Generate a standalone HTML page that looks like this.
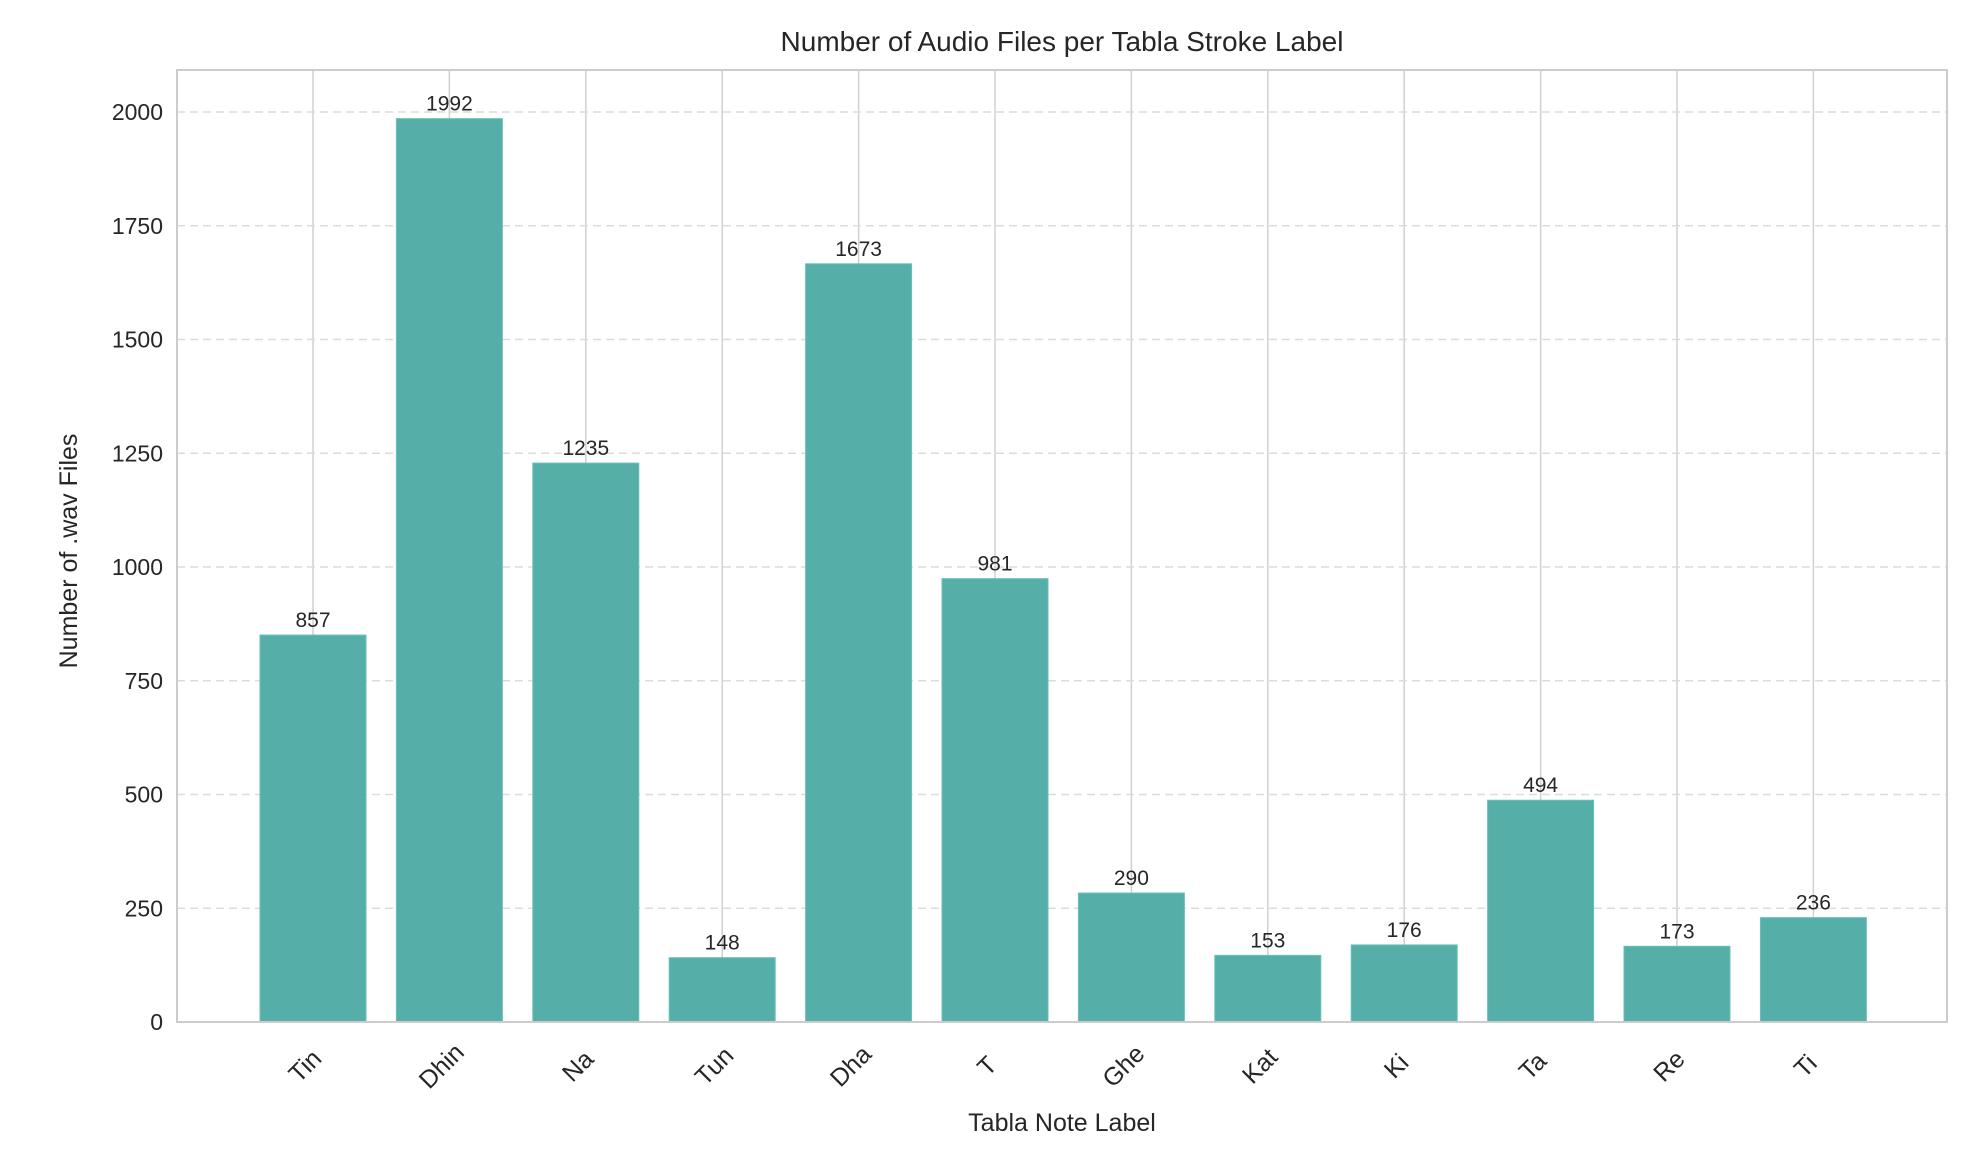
<!DOCTYPE html>
<html><head><meta charset="utf-8"><style>
html,body{margin:0;padding:0;background:#fff}
svg{display:block;font-family:"Liberation Sans",Arial,sans-serif}
</style></head><body>
<svg width="1966" height="1166" viewBox="0 0 1966 1166" xmlns="http://www.w3.org/2000/svg">
<rect width="1966" height="1166" fill="#fff"/>
<script>
(function(){
var ns="http://www.w3.org/2000/svg",svg=document.currentScript.parentNode;
function el(t,a,txt){var e=document.createElementNS(ns,t);for(var k in a)e.setAttribute(k,a[k]);if(txt!=null)e.textContent=txt;svg.appendChild(e);return e;}
var L=177,R=1947,T=70,B=1022,u=136.4,x0=313,py=(B-112)/2000;
function Y(v){return B-v*py;}
for(var i=0;i<12;i++){var x=x0+i*u;el('line',{x1:x,x2:x,y1:T,y2:B,stroke:'#d0d0d0','stroke-width':1.5});}
for(var v=0;v<=2000;v+=250){var y=Y(v);if(v>0)el('line',{x1:L,x2:R,y1:y,y2:y,stroke:'#dcdcdc','stroke-width':1.5,'stroke-dasharray':'8,5'});
el('text',{x:L-14,y:y+8,'text-anchor':'end','font-size':23,fill:'#262626'},String(v));}
var labs=['Tin','Dhin','Na','Tun','Dha','T','Ghe','Kat','Ki','Ta','Re','Ti'];
var vals=[857,1992,1235,148,1673,981,290,153,176,494,173,236];
for(var i=0;i<12;i++){var x=x0+i*u,y=Y(vals[i])+3;
el('rect',{x:x-53,y:y,width:106,height:B-y,fill:'#55afa8',stroke:'#66c2b9','stroke-width':1});
el('text',{x:x,y:y-8,'text-anchor':'middle','font-size':21,fill:'#262626'},String(vals[i]));
el('text',{x:0,y:0,'text-anchor':'middle','font-size':25,fill:'#262626',transform:'translate('+(x-2)+',1072) rotate(-45)'},labs[i]);}
el('rect',{x:L,y:T,width:R-L,height:B-T,fill:'none',stroke:'#cccccc','stroke-width':2});
el('text',{x:(L+R)/2,y:51,'text-anchor':'middle','font-size':28,fill:'#262626'},'Number of Audio Files per Tabla Stroke Label');
el('text',{x:(L+R)/2,y:1131,'text-anchor':'middle','font-size':25,fill:'#262626'},'Tabla Note Label');
el('text',{x:0,y:0,'text-anchor':'middle','font-size':25,fill:'#262626',transform:'translate(77,551) rotate(-90)'},'Number of .wav Files');
})();
</script>
</svg>
</body></html>
